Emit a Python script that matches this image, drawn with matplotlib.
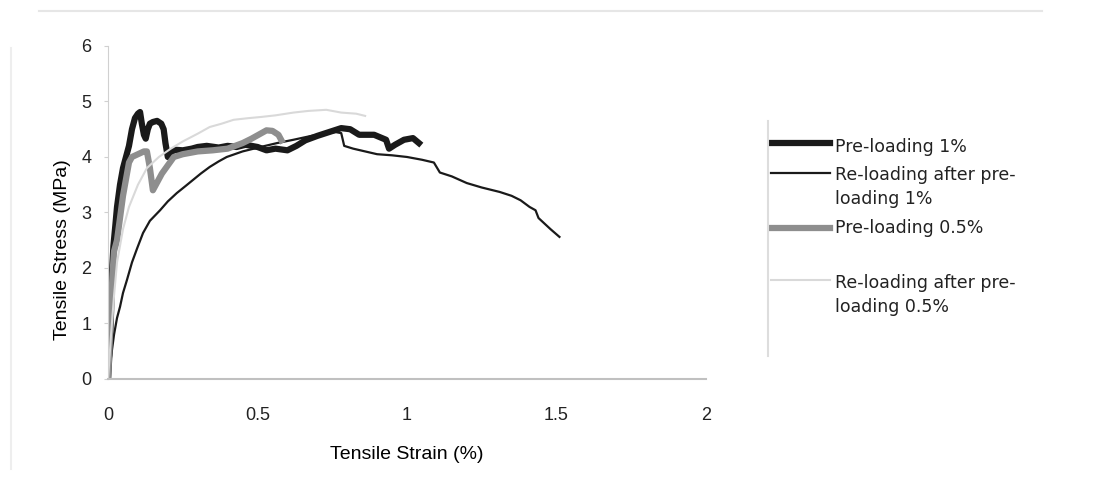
import matplotlib.pyplot as plt
from matplotlib.lines import Line2D

plt.rcParams['font.family'] = ['Liberation Sans', 'DejaVu Sans']

# Pre-loading 1%
x_pre1 = [0, 0.005, 0.01, 0.012, 0.018, 0.025, 0.03, 0.04, 0.05, 0.06, 0.07, 0.08, 0.09, 0.1,
          0.107, 0.113, 0.12, 0.126, 0.133, 0.14, 0.15, 0.164, 0.178, 0.186, 0.192, 0.2, 0.21,
          0.224, 0.25, 0.28, 0.3, 0.33, 0.37, 0.4, 0.43, 0.46, 0.5, 0.53, 0.56, 0.6, 0.63, 0.66,
          0.7, 0.74, 0.78, 0.81, 0.84, 0.89, 0.93, 0.94, 0.96, 0.99, 1.02, 1.04]
y_pre1 = [0, 0.5, 1.2, 1.8, 2.4, 2.8, 3.1, 3.5, 3.8, 4.0, 4.2, 4.5, 4.7, 4.78,
          4.81, 4.6, 4.4, 4.33, 4.5, 4.6, 4.63, 4.65, 4.6, 4.5, 4.25, 4.0, 4.08,
          4.13, 4.12, 4.15, 4.18, 4.2, 4.17, 4.2, 4.18, 4.22, 4.18, 4.12, 4.15, 4.12, 4.2, 4.3,
          4.38, 4.45, 4.52, 4.5, 4.4, 4.4, 4.31, 4.15, 4.22, 4.31, 4.34, 4.25]

# Re-loading after pre-loading 1%
x_re1 = [0, 0.01, 0.02, 0.03, 0.04, 0.05, 0.063, 0.08, 0.097, 0.117, 0.14, 0.174, 0.2, 0.23,
         0.26, 0.285, 0.31, 0.34, 0.37, 0.397, 0.45, 0.51, 0.565, 0.62, 0.68, 0.73, 0.76, 0.78,
         0.79, 0.82, 0.86, 0.9, 0.95, 1.0, 1.05, 1.09, 1.11, 1.15, 1.2, 1.25, 1.31, 1.35, 1.38,
         1.41, 1.43, 1.44, 1.46, 1.48, 1.51]
y_re1 = [0, 0.4, 0.8, 1.1, 1.3, 1.55, 1.78, 2.1, 2.35, 2.63, 2.85, 3.04, 3.2, 3.35,
         3.48, 3.59, 3.7, 3.82, 3.92, 4.0, 4.1, 4.18, 4.25, 4.31, 4.38, 4.42, 4.45, 4.43,
         4.2, 4.15, 4.1, 4.05, 4.03, 4.0, 3.95, 3.9, 3.72, 3.65, 3.53, 3.45, 3.37, 3.3, 3.22,
         3.1, 3.04, 2.9, 2.8, 2.7, 2.56]

# Pre-loading 0.5%
x_pre05 = [0, 0.005, 0.01, 0.015, 0.02, 0.03, 0.04, 0.05, 0.06, 0.07, 0.08, 0.1, 0.12, 0.13,
           0.14, 0.15, 0.16, 0.18, 0.2, 0.22, 0.25, 0.3, 0.35, 0.4, 0.45, 0.48, 0.51, 0.53,
           0.55, 0.57, 0.58]
y_pre05 = [0, 0.6, 1.3, 1.9, 2.3, 2.5, 2.9, 3.3, 3.6, 3.9, 4.0, 4.05, 4.1, 4.1,
           3.8, 3.4, 3.5, 3.7, 3.85, 4.0, 4.05, 4.1, 4.12, 4.15, 4.25, 4.33, 4.42, 4.48,
           4.47, 4.4, 4.3]

# Re-loading after pre-loading 0.5%
x_re05 = [0, 0.01, 0.02, 0.03, 0.05, 0.07, 0.1, 0.13, 0.17, 0.21, 0.25, 0.3, 0.34, 0.38,
          0.42, 0.47, 0.51, 0.56, 0.62, 0.67, 0.73, 0.78, 0.83, 0.86]
y_re05 = [0, 0.8, 1.5, 2.1, 2.7, 3.1, 3.5, 3.8, 4.0, 4.15, 4.28, 4.42, 4.54, 4.6,
          4.67, 4.7, 4.72, 4.75, 4.8, 4.83, 4.85, 4.8, 4.78, 4.74]

x_ticks = [0, 0.5, 1, 1.5, 2]
x_labels = ['0', '0.5', '1', '1.5', '2']
y_ticks = [0, 1, 2, 3, 4, 5, 6]

labels = ['Pre-loading 1%', 'Re-loading after pre-\nloading 1%',
          'Pre-loading 0.5%', 'Re-loading after pre-\nloading 0.5%']
colors = ['#1a1a1a', '#1a1a1a', '#8e8e8e', '#d9d9d9']
widths = [4.5, 1.6, 4.5, 1.5]

fig = plt.figure(figsize=(10.97, 4.84), dpi=100)
ax = fig.add_axes([0.0985, 0.217, 0.545, 0.688])

series = [(x_pre1, y_pre1), (x_re1, y_re1), (x_pre05, y_pre05), (x_re05, y_re05)]
for (xs, ys), c, w, lab in zip(series, colors, widths, labels):
    ax.plot(xs, ys, color=c, linewidth=w, label=lab)

ax.set_xlim(0, 2)
ax.set_ylim(0, 6)
ax.set_xticks(x_ticks)
ax.set_xticklabels(x_labels)
ax.set_yticks(y_ticks)

for s in ['top', 'right']:
    ax.spines[s].set_visible(False)
ax.spines['left'].set_color('#d0d0d0')
ax.spines['bottom'].set_color('#c0c0c0')
ax.spines['bottom'].set_linewidth(1.5)
ax.tick_params(axis='x', length=0, pad=20, labelsize=13, colors='#222222')
ax.tick_params(axis='y', length=3, pad=9, labelsize=13, colors='#222222')
ax.tick_params(axis='y', color='#d0d0d0')

ax.set_xlabel('Tensile Strain (%)', fontsize=14)
ax.xaxis.set_label_coords(0.5, -0.2)
ax.set_ylabel('Tensile Stress (MPa)', fontsize=14)
ax.yaxis.set_label_coords(-0.062, 0.387)

# legend, drawn by hand so the uneven spacing of the source can be kept
H = 484.0
W = 1097.0
handle_y = [143, 173, 228, 280]
text_y = [147, 187, 228, 295]
for hy, ty, c, w, lab in zip(handle_y, text_y, colors, widths, labels):
    fig.add_artist(Line2D([771 / W, 830 / W], [1 - hy / H, 1 - hy / H], color=c, linewidth=w))
    fig.text(835 / W, 1 - ty / H, lab, fontsize=12.5, family='DejaVu Sans',
             va='center', ha='left', linespacing=1.45, color='#222222')

# faint frame edges from the source
fig.add_artist(Line2D([0.70, 0.70], [0.265, 0.75], color='#dddddd', linewidth=1.5))
fig.add_artist(Line2D([0.036, 0.95], [0.978, 0.978], color='#e6e6e6', linewidth=1.5))
fig.add_artist(Line2D([0.01, 0.01], [0.03, 0.9], color='#eeeeee', linewidth=1.5))

fig.savefig('out.png', dpi=100)
